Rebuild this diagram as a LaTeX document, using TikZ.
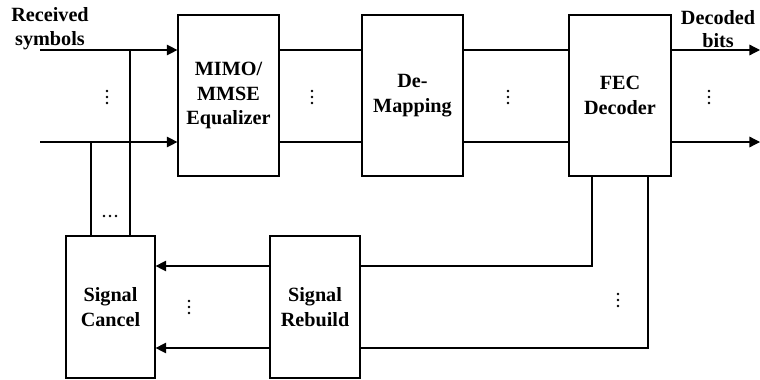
\documentclass[tikz,border=0pt]{standalone}
\usepackage{fontspec}
\setmainfont{Liberation Serif}
\usetikzlibrary{positioning, calc, arrows.meta}

\tikzset{
    blk/.style={draw, rectangle, line width=0.7pt, align=center,
        font=\fontsize{11.5}{14}\selectfont\bfseries},
    wire/.style={line width=0.7pt},
    sig/.style={line width=0.7pt, -{Triangle[length=6pt,width=6pt]}},
    lbl/.style={align=center, font=\fontsize{11.5}{13.5}\selectfont\bfseries},
}

\begin{document}
\begin{tikzpicture}[x=0.02cm, y=-0.02cm]
        \useasboundingbox (0,0) rectangle (760,379);

        % the blocks
        \node[blk, minimum width=2.02cm, minimum height=3.22cm] (eq)  at (228.5,95.5) {MIMO/\\MMSE\\Equalizer};
        \node[blk, minimum width=2.02cm, minimum height=3.22cm] (dem) at (412.5,95.5) {De-\\Mapping};
        \node[blk, minimum width=2.04cm, minimum height=3.22cm] (fec) at (620,95.5) {FEC\\Decoder};
        \node[blk, minimum width=1.78cm, minimum height=2.84cm] (sc)  at (110.5,307) {Signal\\Cancel};
        \node[blk, minimum width=1.80cm, minimum height=2.84cm] (sr)  at (315,307) {Signal\\Rebuild};

        % free ends of the wires
        \coordinate (in1)  at (40,50);
        \coordinate (in2)  at (40,142);
        \coordinate (out1) at (760,50);
        \coordinate (out2) at (760,142);
        \coordinate (t1)   at (130,50);
        \coordinate (t2)   at (91,142);
        \coordinate (fb1)  at (592,266);
        \coordinate (fb2)  at (648,348);

        % labels
        \node[lbl] (rx) at (50,29) {Received\\symbols};
        \node[lbl] (dx) at (718,29) {Decoded\\bits};

        % forward path
        \draw[sig] (in1) -- (in1 -| eq.west);
        \draw[sig] (in2) -- (in2 -| eq.west);
        \draw[wire] (in1 -| eq.east) -- (in1 -| dem.west);
        \draw[wire] (in2 -| eq.east) -- (in2 -| dem.west);
        \draw[wire] (in1 -| dem.east) -- (in1 -| fec.west);
        \draw[wire] (in2 -| dem.east) -- (in2 -| fec.west);
        \draw[sig] (in1 -| fec.east) -- (out1);
        \draw[sig] (in2 -| fec.east) -- (out2);

        % taps down to the canceller
        \draw[wire] (t1) -- (t1 |- sc.north);
        \draw[wire] (t2) -- (t2 |- sc.north);

        % feedback path
        \draw[wire] (fb1 |- fec.south) -- (fb1) -- (fb1 -| sr.east);
        \draw[wire] (fb2 |- fec.south) -- (fb2) -- (fb2 -| sr.east);
        \draw[sig] (fb1 -| sr.west) -- (fb1 -| sc.east);
        \draw[sig] (fb2 -| sr.west) -- (fb2 -| sc.east);

        % vertical dots
        \foreach \x/\y in {107/97, 312/97, 508/97, 709/97, 189/307, 618/300}
            \foreach \d in {-6,0,6}
                \fill (\x,\y+\d) circle (1.4);

        % horizontal dots
        \foreach \d in {-6,0,6}
            \fill (110+\d,216) circle (1.4);
    \end{tikzpicture}
\end{document}
